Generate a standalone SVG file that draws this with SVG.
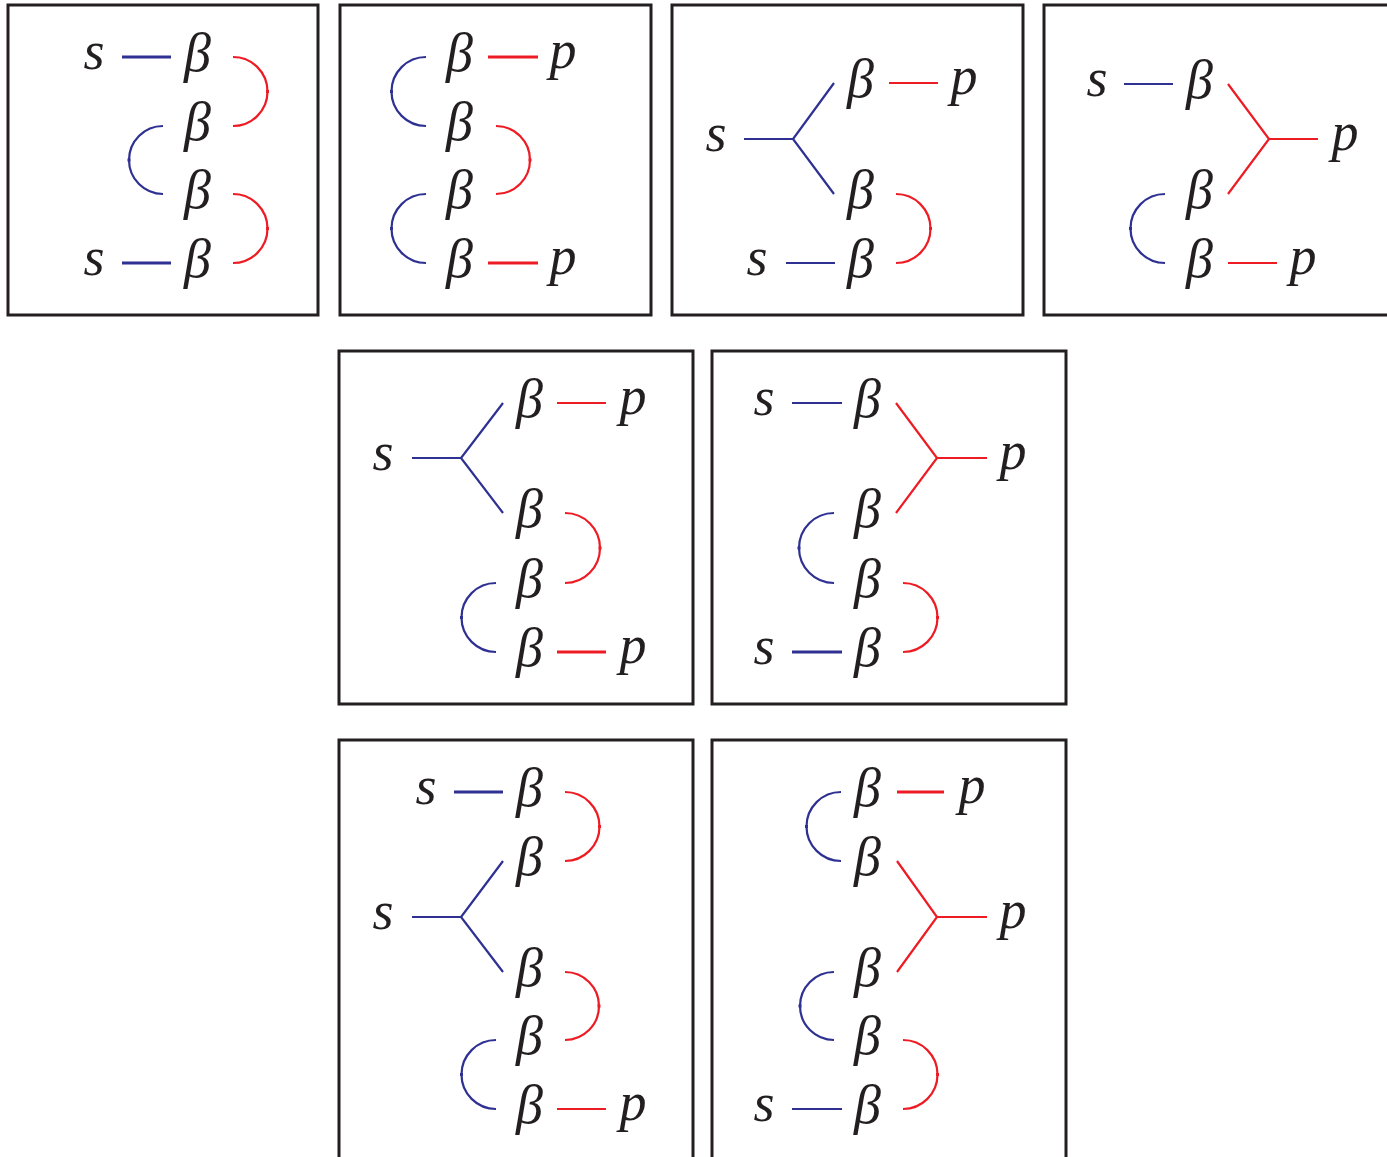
<svg xmlns="http://www.w3.org/2000/svg" width="1387" height="1157" viewBox="0 0 1387 1157">
<style>
.box{fill:none;stroke:#231f20;stroke-width:3}
.t{font-family:"Liberation Serif","Times New Roman",serif;font-style:italic;font-size:54px;fill:#231f20;text-anchor:middle}
.b{fill:none;stroke:#2e3192;stroke-width:2.2}
.r{fill:none;stroke:#ed1c24;stroke-width:2.2}
.k{stroke-width:3}
.ab{fill:none;stroke:#2e3192;stroke-width:2.2;marker-mid:url(#mb)}
.ar{fill:none;stroke:#ed1c24;stroke-width:2.2;marker-mid:url(#mr)}
</style>
<defs>
<marker id="mb" markerWidth="4" markerHeight="4" refX="2" refY="2" markerUnits="userSpaceOnUse"><rect x="0.5" y="0.5" width="3" height="3" fill="#2e3192"/></marker>
<marker id="mr" markerWidth="4" markerHeight="4" refX="2" refY="2" markerUnits="userSpaceOnUse"><rect x="0.5" y="0.5" width="3" height="3" fill="#ed1c24"/></marker>
</defs>
<rect width="1387" height="1157" fill="#fff"/>

<!-- Panel 1 -->
<g id="panel1">
<rect class="box" x="8" y="5" width="310" height="310"/>
<text class="t" x="94" y="69">s</text>
<text class="t" x="94" y="275">s</text>
<text class="t" x="197.5" y="71">β</text>
<text class="t" x="197.5" y="140">β</text>
<text class="t" x="197.5" y="208">β</text>
<text class="t" x="197.5" y="277">β</text>
</g>
<!-- Panel 2 -->
<g id="panel2">
<rect class="box" x="340" y="5" width="311" height="310"/>
<text class="t" x="459.5" y="71">β</text>
<text class="t" x="459.5" y="140">β</text>
<text class="t" x="459.5" y="208">β</text>
<text class="t" x="459.5" y="277">β</text>
<text class="t" x="563" y="68">p</text>
<text class="t" x="563" y="274">p</text>
</g>
<!-- Panel 3 -->
<g id="panel3">
<rect class="box" x="672" y="5" width="351" height="310"/>
<text class="t" x="716" y="151">s</text>
<text class="t" x="757" y="275">s</text>
<text class="t" x="860.5" y="97">β</text>
<text class="t" x="860.5" y="208">β</text>
<text class="t" x="860.5" y="277">β</text>
<text class="t" x="964" y="94">p</text>
</g>
<!-- Panel 4 -->
<g id="panel4">
<rect class="box" x="1044" y="5" width="360" height="310"/>
<text class="t" x="1097" y="96">s</text>
<text class="t" x="1199.5" y="98">β</text>
<text class="t" x="1199.5" y="208">β</text>
<text class="t" x="1199.5" y="277">β</text>
<text class="t" x="1345" y="150">p</text>
<text class="t" x="1303" y="274">p</text>
</g>
<!-- Panel 5 -->
<g id="panel5">
<rect class="box" x="339" y="351" width="354" height="353"/>
<text class="t" x="383" y="470">s</text>
<text class="t" x="529.5" y="417">β</text>
<text class="t" x="529.5" y="527">β</text>
<text class="t" x="529.5" y="597">β</text>
<text class="t" x="529.5" y="666">β</text>
<text class="t" x="633" y="414">p</text>
<text class="t" x="633" y="663">p</text>
</g>
<!-- Panel 6 -->
<g id="panel6">
<rect class="box" x="712" y="351" width="354" height="353"/>
<text class="t" x="764" y="415">s</text>
<text class="t" x="764" y="664">s</text>
<text class="t" x="867.5" y="417">β</text>
<text class="t" x="867.5" y="527">β</text>
<text class="t" x="867.5" y="597">β</text>
<text class="t" x="867.5" y="666">β</text>
<text class="t" x="1013" y="469">p</text>
</g>
<!-- Panel 7 -->
<g id="panel7">
<rect class="box" x="339" y="740" width="354" height="440"/>
<text class="t" x="426" y="804">s</text>
<text class="t" x="383" y="929">s</text>
<text class="t" x="529.5" y="806">β</text>
<text class="t" x="529.5" y="875">β</text>
<text class="t" x="529.5" y="986">β</text>
<text class="t" x="529.5" y="1054">β</text>
<text class="t" x="529.5" y="1123">β</text>
<text class="t" x="633" y="1120">p</text>
</g>
<!-- Panel 8 -->
<g id="panel8">
<rect class="box" x="712" y="740" width="354" height="440"/>
<text class="t" x="867.5" y="806">β</text>
<text class="t" x="867.5" y="875">β</text>
<text class="t" x="867.5" y="986">β</text>
<text class="t" x="867.5" y="1054">β</text>
<text class="t" x="867.5" y="1123">β</text>
<text class="t" x="972" y="803">p</text>
<text class="t" x="1013" y="928">p</text>
<text class="t" x="764" y="1121">s</text>
</g>

<g id="connectors">
<!-- Panel 1 -->
<line class="b k" x1="122" y1="57" x2="171" y2="57"/>
<line class="b k" x1="122" y1="263" x2="171" y2="263"/>
<path class="ar" d="M233 57 A34.5 34.5 0 0 1 267.5 91.5 A34.5 34.5 0 0 1 233 126"/>
<path class="ab" d="M163 126 A34 34 0 0 0 129 160 A34 34 0 0 0 163 194"/>
<path class="ar" d="M233 194 A34.5 34.5 0 0 1 267.5 228.5 A34.5 34.5 0 0 1 233 263"/>
<!-- Panel 2 -->
<line class="r k" x1="488" y1="57" x2="538" y2="57"/>
<line class="r k" x1="488" y1="263" x2="538" y2="263"/>
<path class="ab" d="M426 57 A34.5 34.5 0 0 0 391.5 91.5 A34.5 34.5 0 0 0 426 126"/>
<path class="ar" d="M496 126 A34 34 0 0 1 530 160 A34 34 0 0 1 496 194"/>
<path class="ab" d="M426 194 A34.5 34.5 0 0 0 391.5 228.5 A34.5 34.5 0 0 0 426 263"/>
<!-- Panel 3 -->
<line class="b" x1="744" y1="139" x2="793" y2="139"/>
<polyline class="b" points="834,83 793,139 834,194"/>
<line class="r" x1="889" y1="83" x2="938" y2="83"/>
<line class="b" x1="786" y1="263" x2="835" y2="263"/>
<path class="ar" d="M896 194 A34.5 34.5 0 0 1 930.5 228.5 A34.5 34.5 0 0 1 896 263"/>
<!-- Panel 4 -->
<line class="b" x1="1124" y1="84" x2="1173" y2="84"/>
<polyline class="r" points="1228,84 1269,139 1228,194"/>
<line class="r" x1="1269" y1="139" x2="1318" y2="139"/>
<path class="ab" d="M1165 194 A34.5 34.5 0 0 0 1130.5 228.5 A34.5 34.5 0 0 0 1165 263"/>
<line class="r" x1="1228" y1="263" x2="1277" y2="263"/>
<!-- Panel 5 -->
<line class="b" x1="412" y1="458" x2="461" y2="458"/>
<polyline class="b" points="503,403 461,458 503,513"/>
<line class="r" x1="557" y1="403" x2="606" y2="403"/>
<path class="ar" d="M565 513 A35 35 0 0 1 600 548 A35 35 0 0 1 565 583"/>
<path class="ab" d="M496 583 A34.5 34.5 0 0 0 461.5 617.5 A34.5 34.5 0 0 0 496 652"/>
<line class="r k" x1="557" y1="652" x2="606" y2="652"/>
<!-- Panel 6 -->
<line class="b" x1="792" y1="403" x2="842" y2="403"/>
<polyline class="r" points="896,403 937,458 896,513"/>
<line class="r" x1="937" y1="458" x2="987" y2="458"/>
<path class="ab" d="M834 513 A35 35 0 0 0 799 548 A35 35 0 0 0 834 583"/>
<path class="ar" d="M903 583 A34.5 34.5 0 0 1 937.5 617.5 A34.5 34.5 0 0 1 903 652"/>
<line class="b k" x1="792" y1="652" x2="842" y2="652"/>
<!-- Panel 7 -->
<line class="b k" x1="454" y1="792" x2="503" y2="792"/>
<path class="ar" d="M565 792 A34.5 34.5 0 0 1 599.5 826.5 A34.5 34.5 0 0 1 565 861"/>
<line class="b" x1="412" y1="917" x2="461" y2="917"/>
<polyline class="b" points="503,861 461,917 503,972"/>
<path class="ar" d="M565 972 A34 34 0 0 1 599 1006 A34 34 0 0 1 565 1040"/>
<path class="ab" d="M496 1040 A34.5 34.5 0 0 0 461.5 1074.5 A34.5 34.5 0 0 0 496 1109"/>
<line class="r" x1="557" y1="1109" x2="606" y2="1109"/>
<!-- Panel 8 -->
<path class="ab" d="M841 792 A34.5 34.5 0 0 0 806.5 826.5 A34.5 34.5 0 0 0 841 861"/>
<line class="r k" x1="897" y1="792" x2="944" y2="792"/>
<polyline class="r" points="897,861 937,917 897,972"/>
<line class="r" x1="937" y1="917" x2="987" y2="917"/>
<path class="ab" d="M834 972 A34 34 0 0 0 800 1006 A34 34 0 0 0 834 1040"/>
<path class="ar" d="M903 1040 A34.5 34.5 0 0 1 937.5 1074.5 A34.5 34.5 0 0 1 903 1109"/>
<line class="b" x1="792" y1="1109" x2="842" y2="1109"/>
</g>
</svg>
